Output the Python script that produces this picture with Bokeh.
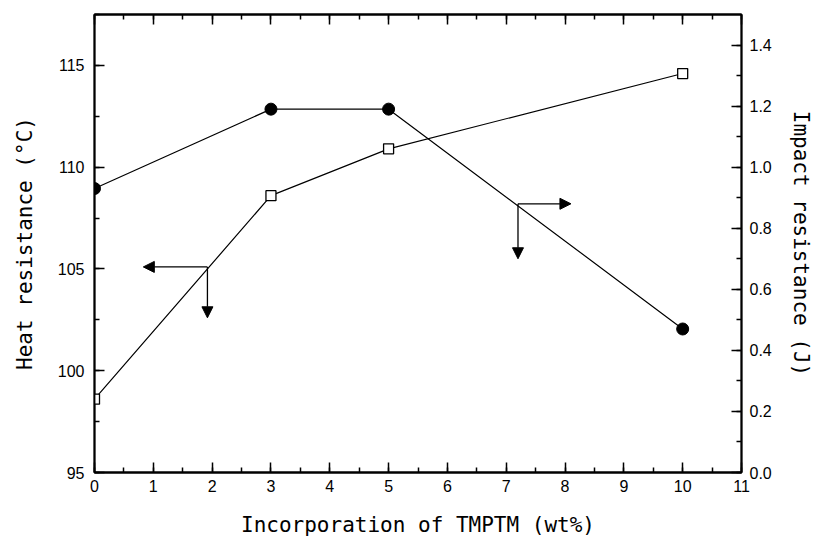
from bokeh.plotting import figure
from bokeh.models import (Range1d, LinearAxis, SingleIntervalTicker, Arrow, NormalHead,
                          PrintfTickFormatter, CustomJSTickFormatter)
from bokeh.embed import file_html
from bokeh.resources import INLINE

# data
tmptm = [0, 3, 5, 10]
heat_resistance = [98.6, 108.6, 110.9, 114.6]     # left axis, open squares
impact_resistance = [0.93, 1.19, 1.19, 0.47]      # right axis, filled circles

# arrow annotations (data coords): (x_start, y_start, x_end, y_end)
heat_arrows = [(1.92, 105.1, 0.83, 105.1), (1.92, 105.1, 1.92, 102.6)]
impact_arrows = [(7.2, 0.88, 8.1, 0.88), (7.2, 0.88, 7.2, 0.70)]

TITLE_FONT = "DejaVu Sans Mono"
TICK_FONT = "Liberation Sans"

p = figure(width=815, height=540, output_backend="svg", toolbar_location=None,
           x_range=Range1d(0, 11), y_range=Range1d(95, 117.5),
           min_border_left=94, min_border_right=67, min_border_top=14, min_border_bottom=68)
p.extra_y_ranges = {"right": Range1d(0, 1.5)}
p.grid.visible = False
p.outline_line_color = "black"
p.outline_line_width = 1.8
p.background_fill_color = "white"
p.border_fill_color = "white"


def style_axis(ax):
    ax.axis_line_color = "black"
    ax.axis_line_width = 1.8
    ax.major_tick_in = 10
    ax.major_tick_out = 0
    ax.minor_tick_in = 5
    ax.minor_tick_out = 0
    ax.major_tick_line_color = "black"
    ax.minor_tick_line_color = "black"
    ax.major_tick_line_width = 1.5
    ax.minor_tick_line_width = 1.5
    ax.major_label_text_font = TICK_FONT
    ax.major_label_text_font_size = "16px"
    ax.major_label_text_color = "black"
    ax.axis_label_text_font = TITLE_FONT
    ax.axis_label_text_font_size = "21px"
    ax.axis_label_text_font_style = "normal"
    ax.axis_label_text_color = "black"


xa = p.xaxis[0]
xa.ticker = SingleIntervalTicker(interval=1, num_minor_ticks=2)
xa.axis_label = "Incorporation of TMPTM (wt%)"
style_axis(xa)
xa.major_label_standoff = 7
xa.axis_label_standoff = 18

ya = p.yaxis[0]
ya.ticker = SingleIntervalTicker(interval=5, num_minor_ticks=2)
ya.axis_label = "Heat resistance (°C)"
style_axis(ya)
ya.major_label_standoff = 10
ya.axis_label_standoff = 18

ra = LinearAxis(y_range_name="right", ticker=SingleIntervalTicker(interval=0.2, num_minor_ticks=2),
                axis_label="Impact resistance (J)")
style_axis(ra)
ra.major_label_standoff = 8
ra.axis_label_standoff = 14
ra.formatter = PrintfTickFormatter(format="%.1f")
p.add_layout(ra, "right")

ta = LinearAxis(ticker=SingleIntervalTicker(interval=1, num_minor_ticks=2),
                formatter=CustomJSTickFormatter(code="return ''"))
style_axis(ta)
ta.major_label_standoff = 0
p.add_layout(ta, "above")

# series
p.line(tmptm, heat_resistance, line_color="black", line_width=1.2)
p.line(tmptm, impact_resistance, line_color="black", line_width=1.2, y_range_name="right")
p.scatter(tmptm, heat_resistance, marker="square", size=10, fill_color="white",
          line_color="black", line_width=1.3)
p.scatter(tmptm, impact_resistance, marker="circle", size=12, fill_color="black",
          line_color="black", y_range_name="right")

for (x0, y0, x1, y1) in heat_arrows:
    p.add_layout(Arrow(end=NormalHead(size=11, fill_color="black", line_color="black"),
                       x_start=x0, y_start=y0, x_end=x1, y_end=y1,
                       line_color="black", line_width=1.3))
for (x0, y0, x1, y1) in impact_arrows:
    p.add_layout(Arrow(end=NormalHead(size=11, fill_color="black", line_color="black"),
                       x_start=x0, y_start=y0, x_end=x1, y_end=y1,
                       line_color="black", line_width=1.3, y_range_name="right"))

open("out.html", "w").write(file_html(p, INLINE))
